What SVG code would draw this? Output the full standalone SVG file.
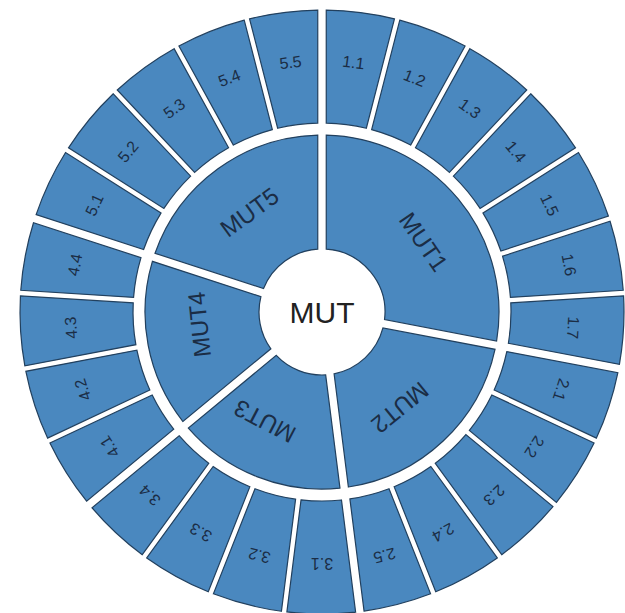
<svg xmlns="http://www.w3.org/2000/svg" xmlns:xlink="http://www.w3.org/1999/xlink" width="625" height="613" viewBox="0 0 625 613">
<style>
.seg{fill:#4a88bf;stroke:#22405e;stroke-width:1.2}
.lo{font-family:"Liberation Sans",Arial,sans-serif;font-size:16px;fill:#1b2d45;text-anchor:middle}
.li{font-family:"Liberation Sans",Arial,sans-serif;font-size:24px;fill:#1b2d45;text-anchor:middle}
.lc{font-family:"Liberation Sans",Arial,sans-serif;font-size:30px;fill:#222;text-anchor:middle}
</style>
<defs>
<path id="oA" class="seg" d="M -35.121,-299.951 A 302 302 0 0 1 35.121,-299.951 L 20.957,-187.834 A 189 189 0 0 0 -20.957,-187.834 Z"/>
<path id="oB" class="seg" d="M -33.630,-300.122 A 302 302 0 0 1 35.121,-299.951 L 20.957,-187.834 A 189 189 0 0 0 -19.465,-187.995 Z"/>
<path id="oC" class="seg" d="M -35.121,-299.951 A 302 302 0 0 1 33.630,-300.122 L 19.465,-187.995 A 189 189 0 0 0 -20.957,-187.834 Z"/>
<path id="i100" class="seg" d="M -133.633,-116.066 A 177 177 0 0 1 133.633,-116.066 L 45.723,-43.341 A 63 63 0 0 0 -45.723,-43.341 Z"/>
<path id="i72" class="seg" d="M -100.570,-145.653 A 177 177 0 0 1 100.570,-145.653 L 33.508,-53.350 A 63 63 0 0 0 -33.508,-53.350 Z"/>
<path id="i57" class="seg" d="M -81.522,-157.109 A 177 177 0 0 1 81.522,-157.109 L 26.557,-57.129 A 63 63 0 0 0 -26.557,-57.129 Z"/>
</defs>
<rect width="625" height="613" fill="#ffffff"/>
<g id="connectors"/>
<g id="MUT" transform="translate(322,312)"><circle r="62" fill="#ffffff"/><text class="lc" y="11">MUT</text></g>
<g id="MUT1" transform="translate(322,312) rotate(50.4)"><use href="#i100"/><text class="li" y="-115" transform="rotate(5)">MUT1</text></g>
<g id="MUT2" transform="translate(322,312) rotate(136.8)"><use href="#i72"/><text class="li" y="-115" transform="rotate(4)">MUT2</text></g>
<g id="MUT3" transform="translate(322,312) rotate(201.6)"><use href="#i57"/><text class="li" y="-115" transform="rotate(6)">MUT3</text></g>
<g id="MUT4" transform="translate(322,312) rotate(259.2)"><use href="#i57"/><text class="li" y="-115" transform="rotate(5)">MUT4</text></g>
<g id="MUT5" transform="translate(322,312) rotate(324)"><use href="#i72"/><text class="li" y="-115">MUT5</text></g>
<g id="n1_1" transform="translate(322,312) rotate(7.2)"><use href="#oB"/><text class="lo" y="-246">1.1</text></g>
<g id="n1_2" transform="translate(322,312) rotate(21.6)"><use href="#oA"/><text class="lo" y="-246">1.2</text></g>
<g id="n1_3" transform="translate(322,312) rotate(36)"><use href="#oA"/><text class="lo" y="-246">1.3</text></g>
<g id="n1_4" transform="translate(322,312) rotate(50.4)"><use href="#oA"/><text class="lo" y="-246">1.4</text></g>
<g id="n1_5" transform="translate(322,312) rotate(64.8)"><use href="#oA"/><text class="lo" y="-246">1.5</text></g>
<g id="n1_6" transform="translate(322,312) rotate(79.2)"><use href="#oA"/><text class="lo" y="-246">1.6</text></g>
<g id="n1_7" transform="translate(322,312) rotate(93.6)"><use href="#oC"/><text class="lo" y="-246">1.7</text></g>
<g id="n2_1" transform="translate(322,312) rotate(108)"><use href="#oB"/><text class="lo" y="-246">2.1</text></g>
<g id="n2_2" transform="translate(322,312) rotate(122.4)"><use href="#oA"/><text class="lo" y="-246">2.2</text></g>
<g id="n2_3" transform="translate(322,312) rotate(136.8)"><use href="#oA"/><text class="lo" y="-246">2.3</text></g>
<g id="n2_4" transform="translate(322,312) rotate(151.2)"><use href="#oA"/><text class="lo" y="-246">2.4</text></g>
<g id="n2_5" transform="translate(322,312) rotate(165.6)"><use href="#oC"/><text class="lo" y="-246">2.5</text></g>
<g id="n3_1" transform="translate(322,312) rotate(180)"><use href="#oB"/><text class="lo" y="-246">3.1</text></g>
<g id="n3_2" transform="translate(322,312) rotate(194.4)"><use href="#oA"/><text class="lo" y="-246">3.2</text></g>
<g id="n3_3" transform="translate(322,312) rotate(208.8)"><use href="#oA"/><text class="lo" y="-246">3.3</text></g>
<g id="n3_4" transform="translate(322,312) rotate(223.2)"><use href="#oC"/><text class="lo" y="-246">3.4</text></g>
<g id="n4_1" transform="translate(322,312) rotate(237.6)"><use href="#oB"/><text class="lo" y="-246">4.1</text></g>
<g id="n4_2" transform="translate(322,312) rotate(252)"><use href="#oA"/><text class="lo" y="-246">4.2</text></g>
<g id="n4_3" transform="translate(322,312) rotate(266.4)"><use href="#oA"/><text class="lo" y="-246">4.3</text></g>
<g id="n4_4" transform="translate(322,312) rotate(280.8)"><use href="#oC"/><text class="lo" y="-246">4.4</text></g>
<g id="n5_1" transform="translate(322,312) rotate(295.2)"><use href="#oB"/><text class="lo" y="-246">5.1</text></g>
<g id="n5_2" transform="translate(322,312) rotate(309.6)"><use href="#oA"/><text class="lo" y="-246">5.2</text></g>
<g id="n5_3" transform="translate(322,312) rotate(324)"><use href="#oA"/><text class="lo" y="-246">5.3</text></g>
<g id="n5_4" transform="translate(322,312) rotate(338.4)"><use href="#oA"/><text class="lo" y="-246">5.4</text></g>
<g id="n5_5" transform="translate(322,312) rotate(352.8)"><use href="#oC"/><text class="lo" y="-246">5.5</text></g>
</svg>
